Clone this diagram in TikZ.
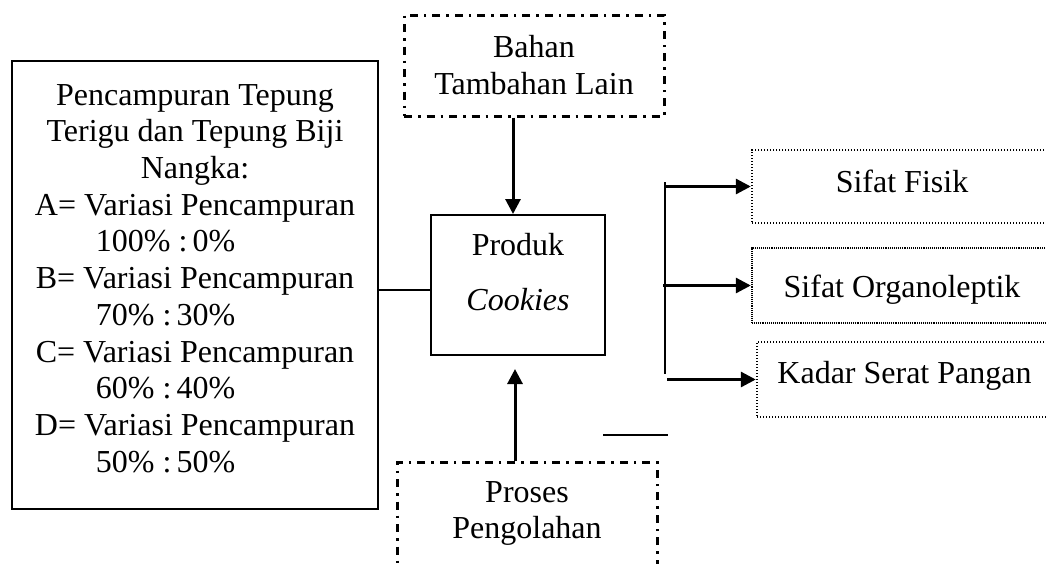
\documentclass[tikz,border=0pt]{standalone}
\usepackage{fontspec}
\setmainfont{Liberation Serif}
\usetikzlibrary{arrows.meta}
% left-aligned percentage line inside the centred list
\newcommand\pctline[2]{\makebox[322pt][l]{\hspace{62pt}#1\% :\kern5pt #2\%}}
\begin{document}
\begin{tikzpicture}[x=1pt,y=-1pt,
  txt/.style={font=\fontsize{32}{36.7}\selectfont, inner sep=0pt, align=center},
  solidbox/.style={draw, line width=2pt, inner sep=0pt},
  dashdotbox/.style={draw, line width=3pt, inner sep=0pt,
    dash pattern=on 8pt off 6pt on 2.5pt off 6pt},
  dotbox/.style={draw, line width=2.4pt, inner sep=0pt, dash pattern=on 1.4pt off 1.6pt},
  densebox/.style={draw, line width=2.4pt, inner sep=0pt, dash pattern=on 1pt off 0.9pt},
  link/.style={line width=2pt},
  arr/.style={line width=3pt, -{Triangle[length=15pt,width=15pt]}},
]
\useasboundingbox (0,0) rectangle (1046,563);

% flour blend treatments
\node[solidbox, minimum width=366pt, minimum height=448pt] (mix) at (195,285) {};
\node[txt, anchor=north] (mixtxt) at (195,84) {Pencampuran Tepung\\
  Terigu dan Tepung Biji\\
  Nangka:\\
  A= Variasi Pencampuran\\
  \pctline{100}{0}\\
  B= Variasi Pencampuran\\
  \pctline{70}{30}\\
  C= Variasi Pencampuran\\
  \pctline{60}{40}\\
  D= Variasi Pencampuran\\
  \pctline{50}{50}};

% product
\node[solidbox, minimum width=174pt, minimum height=140pt] (prod) at (518,285) {};
\node[txt, anchor=north] (prodtxt) at (518,233) {Produk\\[18.3pt]\textit{Cookies}};

% other ingredients
\node[dashdotbox, minimum width=260pt, minimum height=101pt] (bahan) at (534,65.5) {};
\node[txt, anchor=north] (bahantxt) at (534,35) {Bahan\\Tambahan Lain};

% processing
\node[dashdotbox, minimum width=260pt, minimum height=138pt] (proses) at (527,531) {};
\node[txt, anchor=north] (prosestxt) at (527,481) {Proses\\Pengolahan};

% measured properties
\node[dotbox, minimum width=300pt, minimum height=73pt] (fisik) at (902,186.5) {};
\node[txt, anchor=base] (fisiktxt) at (902,192) {Sifat Fisik};
\node[densebox, minimum width=300pt, minimum height=75pt] (organo) at (902,285.5) {};
\node[txt, anchor=base] (organotxt) at (902,297) {Sifat Organoleptik};
\node[dotbox, minimum width=295pt, minimum height=75pt] (kadar) at (904.5,379.5) {};
\node[txt, anchor=base] (kadartxt) at (904.5,383) {Kadar Serat Pangan};

% connectors
\draw[link] ([yshift=-5pt]prod.west) -- ([yshift=-5pt]prod.west -| mix.east);
\draw[arr] ([xshift=-21pt]bahan.south) -- ([xshift=-5pt]prod.north);
\draw[arr] ([xshift=-12pt]proses.north) -- ([xshift=-3pt,yshift=-13pt]prod.south);

\coordinate (bt) at (665,182);
\coordinate (bb) at (665,374);
\draw[line width=2.5pt] (bt) -- (bb);
\draw[arr] (fisik.west -| bt) -- (fisik.west);
\draw[arr] ([xshift=-2pt]organo.west -| bt) -- (organo.west);
\draw[arr] ([xshift=2pt]kadar.west -| bt) -- (kadar.west);

\coordinate (s1) at (603,435);
\coordinate (s2) at (668,435);
\draw[link] (s1) -- (s2);
\end{tikzpicture}
\end{document}
